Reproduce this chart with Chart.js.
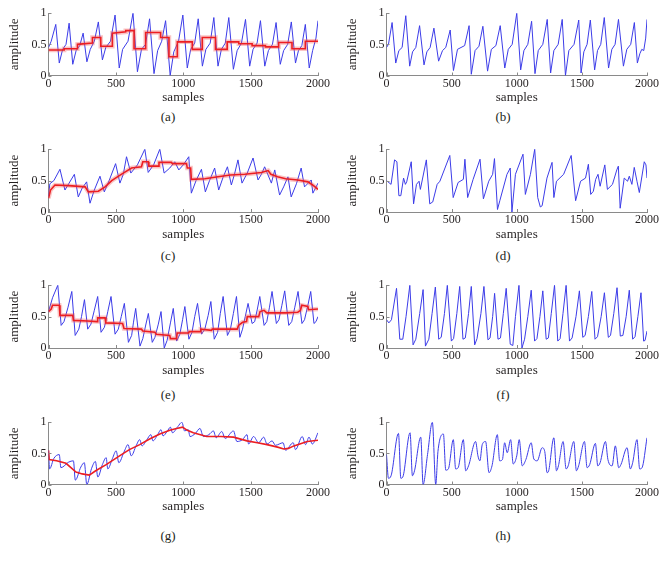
<!DOCTYPE html>
<html>
<head>
<meta charset="utf-8">
<script src="https://cdn.jsdelivr.net/npm/chart.js@4.4.0/dist/chart.umd.min.js"></script>
<style>
  body { margin: 0; background: #fff; font-family: "Liberation Serif", "DejaVu Serif", serif; }
  #fig { position: relative; width: 668px; height: 562px; overflow: hidden; }
  .panel { position: absolute; }
  .cap { position: absolute; font-size: 13px; color: #231f20; transform: translate(-50%, -50%); white-space: nowrap; }
</style>
</head>
<body>
<div id="fig"></div>
<script>
// axis ticks
const xTicks = [0, 500, 1000, 1500, 2000];
const yTicks = [0, 0.5, 1];
const captions = ['(a)', '(b)', '(c)', '(d)', '(e)', '(f)', '(g)', '(h)'];

// (a) raw signal + trend
const aBlueX = [0,20,54,80,105,130,153,180,205,232,257,285,310,340,370,400,425,460,494,525,550,590,627,660,690,720,750,783,810,840,869,903,930,965,997,1030,1055,1085,1111,1142,1168,1200,1227,1258,1283,1312,1338,1372,1400,1432,1462,1493,1518,1548,1573,1605,1632,1662,1689,1720,1745,1775,1802,1833,1855,1880,1906,1935,1960,1985,2000];
const aBlueY = [0.45,0.55,0.82,0.20,0.42,0.50,0.84,0.18,0.40,0.48,0.68,0.22,0.42,0.55,0.86,0.25,0.45,0.55,0.97,0.12,0.42,0.55,1.0,0.06,0.42,0.50,0.91,0.03,0.40,0.55,0.88,0.0,0.38,0.55,0.97,0.12,0.42,0.52,0.91,0.15,0.42,0.52,0.93,0.15,0.42,0.52,0.93,0.10,0.40,0.52,0.90,0.15,0.42,0.52,0.88,0.15,0.40,0.50,0.85,0.18,0.40,0.50,0.86,0.20,0.40,0.48,0.82,0.12,0.40,0.60,0.88];
const aRedX = [0,116,116,215,215,326,326,388,388,474,474,573,573,635,635,721,721,832,832,894,894,956,956,1067,1067,1141,1141,1239,1239,1326,1326,1412,1412,1511,1511,1610,1610,1708,1708,1807,1807,1906,1906,2000];
const aRedY = [0.41,0.41,0.43,0.43,0.50,0.52,0.61,0.61,0.47,0.47,0.68,0.70,0.72,0.72,0.43,0.43,0.69,0.69,0.61,0.61,0.30,0.30,0.54,0.54,0.42,0.42,0.61,0.61,0.42,0.42,0.54,0.54,0.51,0.51,0.48,0.48,0.46,0.46,0.53,0.53,0.43,0.43,0.55,0.55];

// (b)
const bBlueX = [0,15,43,71,95,120,148,178,200,225,254,288,310,335,364,400,430,455,489,514,545,600,634,651,680,710,740,776,805,840,873,908,935,965,1000,1030,1055,1085,1114,1140,1165,1200,1234,1260,1285,1318,1349,1374,1400,1440,1476,1494,1515,1540,1565,1598,1620,1645,1672,1705,1730,1755,1781,1819,1845,1875,1903,1926,1945,1960,1975,1990,2000];
const bBlueY = [0.45,0.50,0.85,0.20,0.40,0.45,0.96,0.15,0.38,0.45,0.80,0.17,0.38,0.45,0.76,0.23,0.40,0.45,0.73,0.08,0.42,0.48,0.80,0.02,0.40,0.47,0.79,0.07,0.42,0.48,0.80,0.12,0.42,0.50,1.0,0.09,0.40,0.50,0.87,0.03,0.40,0.50,0.90,0.04,0.40,0.50,0.90,0.0,0.40,0.50,0.89,0.04,0.38,0.50,0.89,0.09,0.40,0.50,0.93,0.12,0.42,0.50,0.90,0.15,0.42,0.50,0.85,0.20,0.35,0.42,0.40,0.60,0.90];

// (c)
const cBlueX = [0,10,40,85,122,150,192,221,250,283,308,340,382,414,450,498,530,555,579,611,660,715,740,780,826,858,900,937,967,1000,1041,1060,1095,1135,1164,1195,1233,1263,1295,1328,1357,1380,1406,1436,1475,1518,1555,1580,1604,1654,1679,1715,1745,1777,1801,1840,1875,1900,1950,1962,2000];
const cBlueY = [0.25,0.45,0.50,0.68,0.35,0.45,0.60,0.24,0.38,0.48,0.14,0.35,0.57,0.32,0.50,0.77,0.46,0.60,0.88,0.62,0.75,1.0,0.63,0.75,1.0,0.62,0.70,0.80,0.67,0.75,0.88,0.30,0.50,0.68,0.32,0.50,0.70,0.35,0.55,0.72,0.43,0.60,0.83,0.46,0.62,0.86,0.51,0.60,0.72,0.46,0.67,0.27,0.40,0.56,0.24,0.45,0.70,0.40,0.51,0.30,0.46];
const cRedX = [0,15,48,150,272,296,370,420,469,540,616,690,700,740,745,814,820,912,920,1024,1030,1055,1060,1160,1258,1350,1456,1580,1630,1650,1700,1760,1850,1925,1960,2000];
const cRedY = [0.22,0.35,0.43,0.42,0.40,0.32,0.33,0.40,0.50,0.60,0.70,0.72,0.80,0.80,0.73,0.73,0.79,0.79,0.77,0.77,0.70,0.70,0.52,0.53,0.56,0.59,0.60,0.63,0.66,0.60,0.56,0.53,0.51,0.48,0.43,0.36];

// (d)
const dBlueX = [0,35,62,80,95,110,131,145,155,190,208,230,250,260,306,332,355,389,410,486,512,550,590,602,623,665,718,744,785,815,829,852,870,925,950,963,990,1048,1066,1105,1138,1161,1181,1195,1232,1271,1285,1305,1360,1418,1452,1490,1528,1550,1568,1588,1606,1624,1640,1676,1696,1735,1768,1780,1794,1825,1851,1864,1884,1902,1923,1941,1979,1992,2000];
const dBlueY = [0.50,0.44,0.83,0.80,0.26,0.26,0.54,0.44,0.48,0.80,0.13,0.44,0.49,0.36,0.83,0.13,0.16,0.44,0.49,0.90,0.23,0.47,0.52,0.84,0.23,0.52,0.84,0.21,0.49,0.60,0.85,0.04,0.18,0.60,0.70,0.0,0.60,0.92,0.28,0.60,1.0,0.23,0.08,0.10,0.54,0.79,0.23,0.49,0.60,0.90,0.18,0.49,0.54,0.76,0.28,0.33,0.52,0.60,0.41,0.75,0.36,0.44,0.67,0.73,0.06,0.54,0.49,0.57,0.44,0.71,0.49,0.31,0.80,0.75,0.54];

// (e)
const eBlueX = [0,30,69,94,115,145,173,198,225,245,267,291,315,340,365,390,415,440,464,494,518,540,563,593,617,630,647,679,700,720,741,770,790,815,835,859,880,905,926,951,975,995,1012,1042,1065,1085,1106,1136,1160,1185,1205,1230,1255,1275,1296,1328,1350,1372,1395,1420,1440,1460,1481,1511,1530,1550,1568,1600,1620,1640,1659,1691,1710,1732,1753,1783,1805,1828,1852,1881,1900,1925,1946,1970,1985,2000];
const eBlueY = [0.58,0.80,1.0,0.36,0.42,0.65,0.90,0.20,0.30,0.50,0.77,0.30,0.38,0.60,0.82,0.25,0.33,0.58,0.82,0.22,0.30,0.50,0.71,0.09,0.20,0.40,0.63,0.03,0.15,0.35,0.55,0.09,0.17,0.38,0.58,0.0,0.12,0.40,0.63,0.11,0.22,0.45,0.66,0.14,0.25,0.50,0.71,0.22,0.30,0.52,0.74,0.14,0.25,0.55,0.82,0.20,0.30,0.55,0.82,0.17,0.30,0.50,0.71,0.39,0.42,0.62,0.82,0.36,0.42,0.65,0.90,0.39,0.45,0.68,0.91,0.36,0.42,0.65,0.90,0.39,0.45,0.68,0.90,0.39,0.42,0.50];
const eRedX = [0,20,30,80,85,180,185,290,360,365,420,425,550,560,690,700,790,800,900,905,950,955,1040,1045,1125,1130,1210,1215,1400,1410,1440,1470,1475,1560,1570,1600,1620,1760,1850,1870,1880,1925,1930,2000];
const eRedY = [0.58,0.62,0.68,0.68,0.52,0.52,0.44,0.43,0.42,0.48,0.48,0.40,0.39,0.31,0.30,0.27,0.25,0.22,0.20,0.15,0.15,0.24,0.24,0.26,0.26,0.30,0.28,0.30,0.30,0.36,0.41,0.42,0.50,0.50,0.58,0.60,0.56,0.56,0.57,0.60,0.68,0.66,0.61,0.62];

// (f)
const fBlueX = [0,18,38,77,102,125,150,179,204,225,255,281,299,325,350,375,401,420,445,467,498,515,540,562,587,605,630,651,677,695,725,748,779,795,815,830,856,875,897,919,950,970,990,1017,1040,1060,1085,1111,1137,1155,1178,1200,1226,1243,1265,1290,1315,1333,1355,1379,1405,1425,1455,1481,1507,1525,1550,1576,1601,1620,1648,1673,1703,1720,1745,1770,1795,1815,1840,1864,1890,1908,1930,1954,1974,1985,2000];
const fBlueY = [0.45,0.40,0.45,0.95,0.14,0.14,0.50,1.0,0.05,0.14,0.55,0.93,0.03,0.14,0.55,0.97,0.14,0.17,0.55,1.0,0.11,0.15,0.55,0.98,0.14,0.16,0.55,0.98,0.05,0.15,0.55,0.98,0.13,0.16,0.50,0.87,0.14,0.16,0.55,0.95,0.06,0.04,0.50,1.0,0.0,0.14,0.50,0.92,0.11,0.15,0.50,0.91,0.14,0.16,0.55,1.0,0.11,0.15,0.55,1.0,0.11,0.16,0.50,0.91,0.17,0.20,0.50,0.90,0.14,0.18,0.50,0.88,0.17,0.20,0.55,0.96,0.19,0.20,0.50,0.92,0.14,0.18,0.50,0.88,0.11,0.12,0.27];

// (g)
const gBlueX = [0,8,40,80,92,150,185,199,240,266,284,320,348,366,400,428,440,475,502,522,560,590,614,650,677,694,730,760,775,810,835,850,880,905,920,960,990,1010,1037,1050,1090,1124,1149,1190,1224,1244,1286,1311,1373,1398,1440,1473,1485,1522,1560,1597,1622,1659,1684,1741,1759,1816,1833,1883,1908,1933,1958,2000];
const gBlueY = [0.55,0.25,0.42,0.48,0.27,0.36,0.38,0.07,0.28,0.35,0.0,0.26,0.37,0.12,0.32,0.43,0.25,0.42,0.54,0.35,0.52,0.64,0.46,0.62,0.72,0.62,0.72,0.80,0.70,0.80,0.88,0.78,0.85,0.92,0.83,0.93,1.0,0.86,0.88,0.77,0.82,0.90,0.77,0.80,0.86,0.75,0.85,0.74,0.86,0.69,0.72,0.80,0.65,0.77,0.67,0.76,0.65,0.70,0.63,0.67,0.55,0.67,0.56,0.77,0.64,0.76,0.65,0.83];
const gRedX = [0,5,60,130,204,250,303,350,428,527,600,677,750,826,900,950,995,1030,1075,1174,1280,1373,1473,1550,1622,1700,1746,1780,1821,1920,2000];
const gRedY = [0.55,0.40,0.38,0.34,0.20,0.17,0.15,0.22,0.32,0.46,0.56,0.64,0.73,0.81,0.87,0.90,0.92,0.87,0.83,0.77,0.77,0.76,0.70,0.67,0.64,0.60,0.57,0.58,0.62,0.69,0.71];

// (h)
const hBlueX = [0,15,35,92,110,125,181,199,215,263,281,315,352,378,395,437,455,475,513,531,550,590,608,630,684,702,717,735,761,787,810,851,869,890,907,927,953,973,1000,1019,1042,1070,1111,1131,1157,1195,1215,1233,1245,1285,1305,1320,1356,1379,1395,1438,1458,1475,1520,1540,1560,1604,1622,1640,1681,1700,1732,1757,1783,1800,1847,1872,1890,1923,1944,1962,2000];
const hBlueY = [0.48,0.10,0.14,0.82,0.10,0.12,0.83,0.14,0.22,0.76,0.0,0.48,1.0,0.0,0.53,0.81,0.23,0.25,0.72,0.25,0.27,0.72,0.22,0.30,0.69,0.46,0.38,0.64,0.69,0.19,0.30,0.80,0.38,0.40,0.67,0.51,0.72,0.33,0.46,0.72,0.30,0.40,0.67,0.41,0.38,0.59,0.53,0.19,0.22,0.75,0.22,0.30,0.69,0.25,0.30,0.69,0.22,0.30,0.69,0.27,0.32,0.66,0.30,0.35,0.69,0.40,0.30,0.62,0.27,0.32,0.59,0.25,0.35,0.72,0.25,0.27,0.75];

// layout of the 4x2 grid (pixels)
const rowTop = [12, 148, 284.5, 421];
const rowBottom = [75.5, 212, 348, 484.5];
const colLeft = [48.5, 386.5];
const colRight = [318, 647];
const colCanvas = [0, 334];
const capX = [168, 503];
const capY = [116.7, 255.7, 395, 535.7];

const blueColor = 'rgb(60,60,232)';
const redColor = 'rgb(236,30,34)';
const redHalo = 'rgba(240,90,90,0.35)';
const textColor = '#231f20';
const axisColor = '#8a8a8a';

const pts = (xs, ys) => xs.map((x, i) => ({ x: x, y: ys[i] }));

// MATLAB style inward tick marks
const innerTicks = {
    id: 'innerTicks',
    afterDraw(chart) {
        const { ctx, chartArea: a, scales: { x, y } } = chart;
        ctx.save();
        ctx.strokeStyle = axisColor;
        ctx.lineWidth = 1;
        ctx.beginPath();
        xTicks.forEach(v => {
            const px = Math.round(x.getPixelForValue(v)) + 0.5;
            ctx.moveTo(px, a.bottom); ctx.lineTo(px, a.bottom - 3);
        });
        yTicks.forEach(v => {
            const py = Math.round(y.getPixelForValue(v)) + 0.5;
            ctx.moveTo(a.left, py); ctx.lineTo(a.left + 3, py);
        });
        ctx.stroke();
        ctx.restore();
    }
};

const fig = document.getElementById('fig');

function makePanel(idx, blueX, blueY, redX, redY, halo, smooth) {
    const col = idx % 2;
    const row = Math.floor(idx / 2);
    const top = rowTop[row], bottom = rowBottom[row];
    const canvasTop = Math.floor(top) - 8;
    const padTop = top - canvasTop;
    const xAxisH = 30;
    const h = Math.ceil(padTop + (bottom - top) + xAxisH);
    const yAxisW = colLeft[col] - colCanvas[col];

    const wrap = document.createElement('div');
    wrap.className = 'panel';
    wrap.style.left = colCanvas[col] + 'px';
    wrap.style.top = canvasTop + 'px';
    const canvas = document.createElement('canvas');
    canvas.width = 334;
    canvas.height = h;
    wrap.appendChild(canvas);
    fig.appendChild(wrap);

    const cap = document.createElement('div');
    cap.className = 'cap';
    cap.style.left = capX[col] + 'px';
    cap.style.top = capY[row] + 'px';
    cap.textContent = captions[idx];
    fig.appendChild(cap);

    const datasets = [];
    if (redX) {
        datasets.push({ data: pts(redX, redY), borderColor: redColor, borderWidth: 1.6, pointRadius: 0, tension: 0 });
        if (halo) datasets.push({ data: pts(redX, redY), borderColor: redHalo, borderWidth: 4.5, pointRadius: 0, tension: 0 });
    }
    const blue = { data: pts(blueX, blueY), borderColor: blueColor, borderWidth: 1, pointRadius: 0, tension: 0 };
    if (smooth) blue.cubicInterpolationMode = 'monotone';
    datasets.push(blue);

    const tickFont = { family: 'Liberation Serif', size: 12 };
    const titleFont = { family: 'Liberation Serif', size: 13 };

    new Chart(canvas, {
        type: 'line',
        data: { datasets: datasets },
        options: {
            responsive: false,
            animation: false,
            events: [],
            layout: { padding: { left: 0, top: padTop, right: 334 - (colRight[col] - colCanvas[col]), bottom: h - padTop - (bottom - top) - xAxisH } },
            plugins: { legend: { display: false }, tooltip: { enabled: false } },
            scales: {
                x: {
                    type: 'linear', min: 0, max: 2000,
                    afterFit: s => { s.height = xAxisH; },
                    afterBuildTicks: s => { s.ticks = xTicks.map(v => ({ value: v })); },
                    grid: { display: false, drawTicks: false },
                    border: { display: true, color: axisColor, width: 1 },
                    ticks: { color: textColor, font: tickFont, padding: 1, maxRotation: 0, callback: v => String(v) },
                    title: { display: true, text: 'samples', color: textColor, font: titleFont, padding: { top: 0, bottom: 0 } }
                },
                y: {
                    min: 0, max: 1,
                    afterFit: s => { s.width = yAxisW; },
                    afterBuildTicks: s => { s.ticks = yTicks.map(v => ({ value: v })); },
                    grid: { display: false, drawTicks: false },
                    border: { display: true, color: axisColor, width: 1 },
                    ticks: { color: textColor, font: tickFont, padding: 2, callback: v => String(v) },
                    title: { display: true, text: 'amplitude', color: textColor, font: titleFont, padding: { top: col === 0 ? 7.2 : 10.5, bottom: 0 } }
                }
            }
        },
        plugins: [innerTicks]
    });
}

makePanel(0, aBlueX, aBlueY, aRedX, aRedY, true, false);
makePanel(1, bBlueX, bBlueY, null, null, false, false);
makePanel(2, cBlueX, cBlueY, cRedX, cRedY, true, false);
makePanel(3, dBlueX, dBlueY, null, null, false, false);
makePanel(4, eBlueX, eBlueY, eRedX, eRedY, true, false);
makePanel(5, fBlueX, fBlueY, null, null, false, false);
makePanel(6, gBlueX, gBlueY, gRedX, gRedY, false, true);
makePanel(7, hBlueX, hBlueY, null, null, false, true);
</script>
</body>
</html>
